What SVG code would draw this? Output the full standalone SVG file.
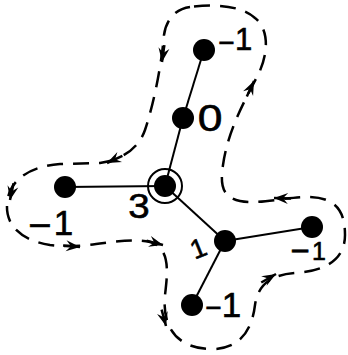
<svg xmlns="http://www.w3.org/2000/svg" xmlns:xlink="http://www.w3.org/1999/xlink" width="348" height="355" viewBox="0 0 348 355">
<style>
.edge{stroke:#000;stroke-width:2;fill:none}
.node{fill:#000}
.ring{fill:none;stroke:#000;stroke-width:2}
.loop{fill:none;stroke:#000;stroke-width:2.5;stroke-dasharray:16 10}
.lbl{font-family:"Liberation Sans",Arial,sans-serif;fill:#000;stroke:#000;stroke-width:0.6;text-anchor:middle}
</style>
<defs>
<g id="ah"><path d="M0,0 L-14,-5.5 L-9,0 L-14,5.5 Z" fill="#000"/><line x1="-17" y1="0" x2="0" y2="0" stroke="#000" stroke-width="2.5"/></g>
</defs>
<rect width="348" height="355" fill="#fff"/>
<g id="connectors">
<path class="loop" d="M190,7 C175,9 166,20 164,35 C162,60 155,100 145,130 C138,150 120,160 100,163 L60,164 C30,166 8,180 7,205 C6,225 20,240 50,245 C90,250 120,236 150,242 C170,248 168,270 165,295 C162,325 175,348 210,349 C240,350 252,330 255,305 C258,285 270,275 295,273 C325,271 345,260 345,235 C345,210 335,198 310,197 C290,196 260,205 240,201 C222,197 220,185 223,165 C228,130 245,100 258,75 C268,55 270,30 255,18 C240,5 215,4 190,7 Z"/>
<use xlink:href="#ah" transform="translate(162,62) rotate(98)"/>
<use xlink:href="#ah" transform="translate(107,163) rotate(155)"/>
<use xlink:href="#ah" transform="translate(10,200) rotate(102)"/>
<use xlink:href="#ah" transform="translate(80,247) rotate(5)"/>
<use xlink:href="#ah" transform="translate(163,245) rotate(15)"/>
<use xlink:href="#ah" transform="translate(166,326) rotate(75)"/>
<use xlink:href="#ah" transform="translate(276,274) rotate(-30)"/>
<use xlink:href="#ah" transform="translate(274,198) rotate(182)"/>
<use xlink:href="#ah" transform="translate(254,81) rotate(-65)"/>
<line class="edge" x1="204" y1="50" x2="183" y2="118"/>
<line class="edge" x1="183" y1="118" x2="165" y2="186"/>
<line class="edge" x1="65" y1="187" x2="165" y2="186"/>
<line class="edge" x1="165" y1="186" x2="225" y2="241"/>
<line class="edge" x1="225" y1="241" x2="312" y2="227"/>
<line class="edge" x1="225" y1="241" x2="192" y2="305"/>
</g>
<g id="n-top"><circle class="node" cx="204" cy="50" r="11"/>
<text class="lbl"><tspan x="226.5" y="52" font-size="28">−</tspan><tspan x="243.5" y="50" font-size="31">1</tspan></text></g>
<g id="n-mid"><circle class="node" cx="183" cy="118" r="11"/>
<text class="lbl" font-size="37" transform="translate(210,131) scale(1.2,1)" x="0" y="0">0</text></g>
<g id="n-center"><circle class="node" cx="165" cy="186" r="11"/><circle class="ring" cx="165" cy="186" r="17"/>
<text class="lbl" font-size="35" transform="translate(139,218) scale(1.1,1)" x="0" y="0">3</text></g>
<g id="n-left"><circle class="node" cx="65" cy="187" r="11"/>
<text class="lbl"><tspan x="40" y="239" font-size="40">−</tspan><tspan x="63.5" y="235" font-size="35">1</tspan></text></g>
<g id="n-right-center"><circle class="node" cx="225" cy="241" r="11"/>
<text class="lbl" font-size="27" transform="rotate(-22 197 248)" x="198" y="258">1</text></g>
<g id="n-right"><circle class="node" cx="312" cy="227" r="11"/>
<text class="lbl"><tspan x="300" y="261.5" font-size="33">−</tspan><tspan x="319" y="260" font-size="25">1</tspan></text></g>
<g id="n-bottom"><circle class="node" cx="192" cy="305" r="11"/>
<text class="lbl"><tspan x="213.5" y="317" font-size="28">−</tspan><tspan x="231.5" y="317" font-size="35">1</tspan></text></g>
</svg>
